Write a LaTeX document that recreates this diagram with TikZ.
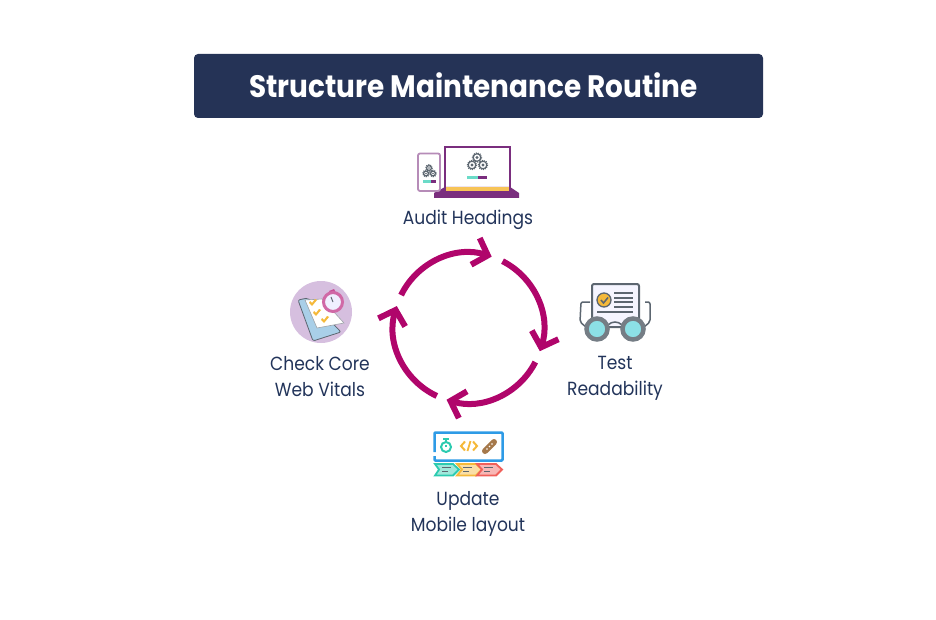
\documentclass[tikz,border=0pt]{standalone}
\usepackage{fontspec}
\setmainfont{Poppins}[FakeStretch=0.9]
\usepackage{xcolor}
\usetikzlibrary{arrows.meta}
\definecolor{navy}{HTML}{253356}
\definecolor{labelink}{HTML}{22345A}
\definecolor{magentaring}{HTML}{B0056B}
\definecolor{plum}{HTML}{7A2E7E}
\definecolor{lilac}{HTML}{D6BFDF}
\definecolor{steel}{HTML}{5C6670}
\definecolor{lens}{HTML}{8CE0E6}
\definecolor{tealmark}{HTML}{2CCBB0}
\definecolor{ambermark}{HTML}{F5B93A}
\definecolor{redmark}{HTML}{F0605A}
\definecolor{bluebox}{HTML}{2E9BE6}
\definecolor{clipblue}{HTML}{A9CFE8}
\definecolor{bandage}{HTML}{A5784A}
\tikzset{
	steplabel/.style={text=labelink,font=\fontsize{19}{26}\selectfont,align=center,inner sep=0pt},
	ringarrow/.style={draw=magentaring,line width=6pt,-{Straight Barb[length=13pt,width=28pt,line width=6pt]}},
	gearmark/.style={draw=steel,line width=1.2pt,fill=white},
}
\newcommand{\gearat}[3]{
	\draw[gearmark] (#1,#2) circle[radius=#3];
	\draw[steel,line width=1.2pt,dash pattern=on 1pt off 1pt] (#1,#2) circle[radius=#3+0.8];
	\fill[steel] (#1,#2) circle[radius=#3*0.4];
}
\begin{document}
\begin{tikzpicture}[x=1pt,y=-1pt]
	\useasboundingbox (0,0) rectangle (936,620);
	\node (bar) [fill=navy,rounded corners=4pt,minimum width=569pt,minimum height=64pt,inner sep=0pt] at (478.5,86) {};
	\node (title) [text=white,font=\fontsize{31}{36}\selectfont\bfseries,inner sep=0pt] at (473.5,85) {Structure Maintenance Routine};
	% labels
	\node (audit) [steplabel] at (468,220) {Audit Headings};
	\node (test) [steplabel] at (615,378) {Test\\Readability};
	\node (update) [steplabel] at (468,513.5) {Update\\Mobile layout};
	\node (vitals) [steplabel] at (320,377) {Check Core\\Web Vitals};
	% ring
	\coordinate (hub) at (468.5,328);
	\foreach \Debut/\Fin in {-154/-72,-63/18,27/107,115/197}
	\draw[ringarrow] ([shift={(\Debut:75)}]hub) arc[start angle=\Debut,end angle=\Fin,radius=75];
	% laptop
	\draw[plum,line width=2pt,fill=white] (445,147) rectangle (510,190);
	\fill[plum] (434,193) -- (445,187) -- (510,187) -- (519,193) -- (519,198) -- (434,198) -- cycle;
	\fill[ambermark!85!white] (446,187.5) rectangle (509,191);
	\gearat{477}{157.5}{3.8}
	\gearat{472}{165}{3.8}
	\gearat{483}{165}{3.8}
	\fill[tealmark!70!white] (467,176.5) rectangle (478,179.5);
	\fill[plum] (478,176.5) rectangle (487,179.5);
	% phone
	\draw[plum!55!white,line width=1.8pt,fill=white,rounded corners=2pt] (418,153.5) rectangle (440,191);
	\gearat{429}{168}{2.4}
	\gearat{426}{173.5}{2.4}
	\gearat{433}{173.5}{2.4}
	\fill[tealmark!70!white] (423,180.5) rectangle (431,183);
	\fill[plum] (431,180.5) rectangle (436,183);
	% glasses
	\draw[steel,line width=2pt,fill=blue!4!white,rounded corners=2pt] (592,284) rectangle (639,327);
	\draw[steel,line width=1.3pt,fill=ambermark] (604,300) circle[radius=7];
	\draw[steel,line width=1.5pt] (601,300) -- (603.5,303) -- (608,297.5);
	\foreach \Ligne in {293,298,302,307}
	\draw[steel,line width=1.5pt] (614,\Ligne) -- (633,\Ligne);
	\draw[steel,line width=1.5pt] (597,312) -- (633,312);
	\draw[steel,line width=1.5pt,rounded corners=2pt] (590,302) -- (581,302) -- (580,322) -- (586,327);
	\draw[steel,line width=1.5pt,rounded corners=2pt] (645,302) -- (650,302) -- (650,322) -- (644,327);
	\draw[steel,line width=1.5pt] (608,325) .. controls (612,321) and (618,321) .. (622,325);
	\foreach \Verre in {597,633}
	\draw[steel!85!white,line width=4.5pt,fill=lens] (\Verre,329) circle[radius=10.5];
	% stopwatch sheet
	\fill[lilac] (321,312) circle[radius=31];
	\fill[clipblue,draw=steel,line width=.8pt,rounded corners=2pt] (298,300) -- (308,298) -- (341,332) -- (313,341) -- cycle;
	\fill[white,draw=steel!60,line width=.6pt] (305,300) -- (322,299) -- (344,323) -- (317,328) -- cycle;
	\foreach \Cx/\Cy in {312/303,316/313,324/320}{
		\fill[ambermark] (\Cx-3,\Cy) -- (\Cx,\Cy+3) -- (\Cx+5,\Cy-3) -- (\Cx+3,\Cy-4) -- (\Cx,\Cy) -- (\Cx-2,\Cy-2) -- cycle;
	}
	\fill[magentaring!70!white] (329,291) -- (334,289) -- (336,293) -- (331,295) -- cycle;
	\draw[magentaring!60!white,line width=3pt,fill=blue!6!white] (333,302) circle[radius=9.5];
	\draw[steel,line width=1pt] (333,302) -- (331,297);
	% code panel
	\draw[bluebox,line width=2.5pt,rounded corners=1pt] (434.5,452) -- (434.5,432.5) -- (502.5,432.5) -- (502.5,460.5) -- (434.5,460.5) -- (434.5,456);
	\draw[tealmark,line width=2pt] (446,447) circle[radius=5];
	\draw[tealmark,line width=1.8pt] (443,439) -- (449,439) (446,439.5) -- (446,442) (446,447) -- (446,444.5);
	\draw[ambermark,line width=2pt] (465,441.5) -- (461,446) -- (465,450.5);
	\draw[ambermark,line width=2pt] (473,441.5) -- (477,446) -- (473,450.5);
	\draw[ambermark,line width=1.8pt] (470.5,441) -- (467.5,451);
	\draw[bandage,line width=6pt,line cap=round] (485,451) -- (494,442);
	\foreach \Bx/\By in {487/449,489.5/446.5,492/444}
	\fill[white] (\Bx,\By) circle[radius=.8];
	% ribbons
	\foreach \Rx/\Rteinte in {457/ambermark,477/redmark}
	\draw[\Rteinte,line width=1.8pt,fill=\Rteinte!45!white] (\Rx,464) -- (\Rx+19,464) -- (\Rx+25,469.5) -- (\Rx+19,475.5) -- (\Rx,475.5) -- (\Rx+5,469.5) -- cycle;
	\draw[tealmark,line width=1.8pt,fill=tealmark!45!white] (435,464) -- (453,464) -- (459,469.5) -- (453,475.5) -- (435,475.5) -- (439,469.5) -- cycle;
	\foreach \Mx in {442,463,484}
	\draw[steel,line width=1pt] (\Mx,467) -- (\Mx+9,467) (\Mx,471.5) -- (\Mx+6,471.5);
\end{tikzpicture}
\end{document}
